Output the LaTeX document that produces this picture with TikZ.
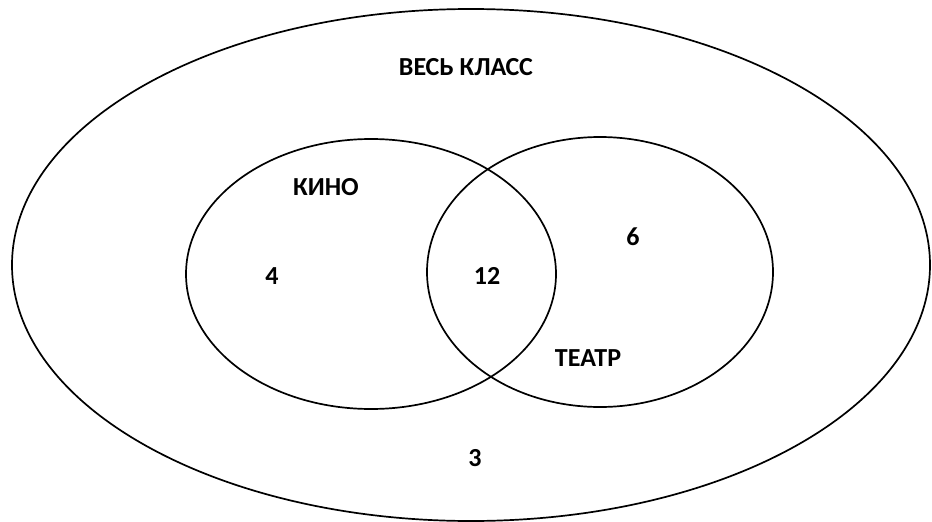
\documentclass[tikz,border=0pt]{standalone}
\usepackage{fontspec}
\setmainfont{Carlito}
\usetikzlibrary{shapes.geometric}
\begin{document}
\begin{tikzpicture}[x=1pt,y=-1pt,
  setshape/.style={draw=black, line width=1.7pt, ellipse, inner sep=0pt, fill=none},
  lbl/.style={font=\fontsize{26}{28}\selectfont\bfseries, inner sep=0pt, anchor=center},
  num/.style={font=\fontsize{26}{28}\selectfont\bfseries, inner sep=0pt, anchor=center}]
\useasboundingbox (0,0) rectangle (932,522);
\node[setshape, minimum width=918pt, minimum height=512pt] (all) at (471,265) {};
\node[setshape, minimum width=370pt, minimum height=270pt] (kino) at (371,274) {};
\node[setshape, minimum width=346pt, minimum height=270pt] (teatr) at (600,272) {};
\node[lbl] (lall) at (466,67) {ВЕСЬ КЛАСС};
\node[lbl] (lkino) at (326,187) {КИНО};
\node[lbl] (lteatr) at (588,358) {ТЕАТР};
\node[num] (n4) at (272,276) {4};
\node[num] (n12) at (487,276) {12};
\node[num] (n6) at (633,237) {6};
\node[num] (n3) at (475,458) {3};
\end{tikzpicture}
\end{document}
